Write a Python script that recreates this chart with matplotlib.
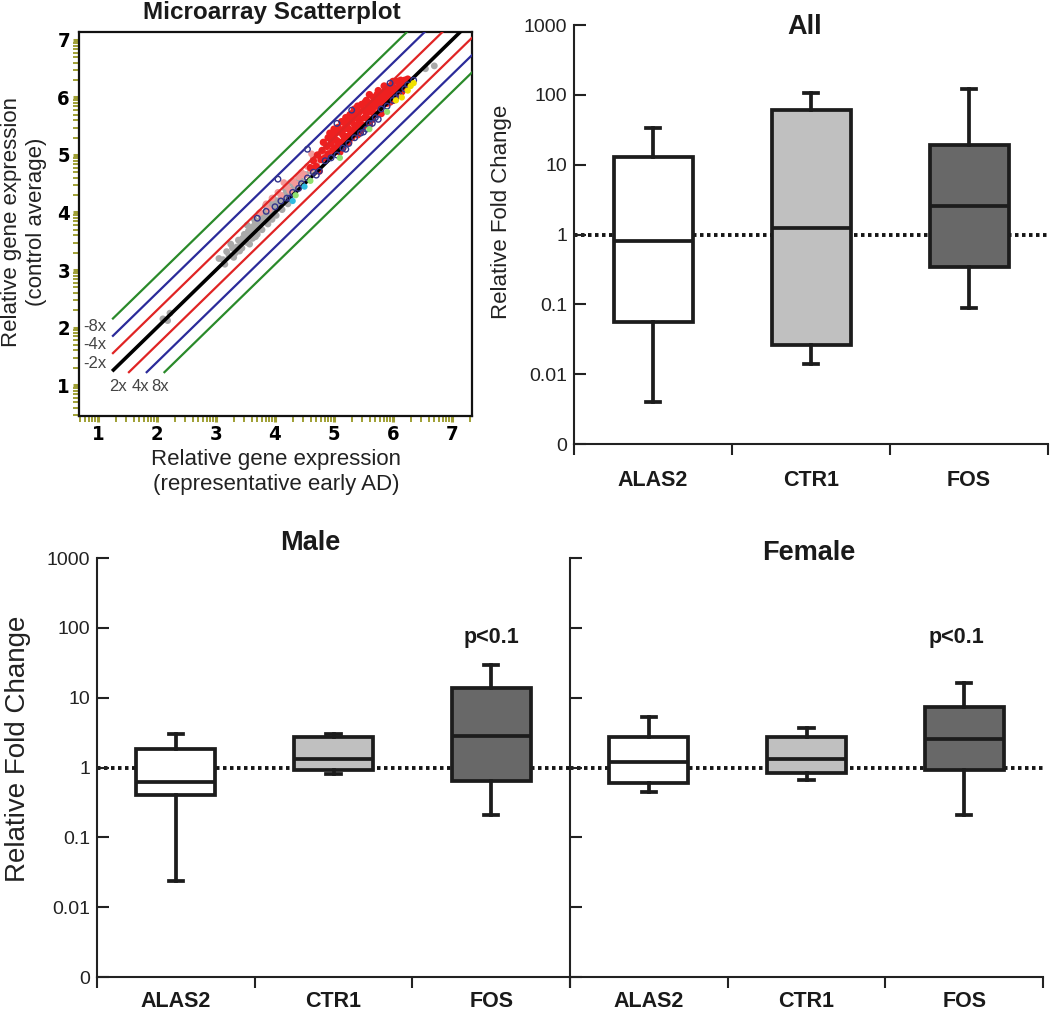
import matplotlib
matplotlib.use('Agg')
import matplotlib.pyplot as plt
import numpy as np
from matplotlib.ticker import NullLocator

plt.rcParams['font.family'] = ['Liberation Sans', 'DejaVu Sans']

# ---------------- data ----------------
genes = ['ALAS2', 'CTR1', 'FOS']
box_colors = ['#ffffff', '#c0c0c0', '#686868']

all_whislo = [0.004, 0.014, 0.089]
all_q1 = [0.055, 0.026, 0.34]
all_med = [0.82, 1.22, 2.6]
all_q3 = [13.0, 60.0, 19.0]
all_whishi = [34.0, 105.0, 120.0]

male_whislo = [0.024, 0.82, 0.21]
male_q1 = [0.41, 0.92, 0.64]
male_med = [0.61, 1.32, 2.85]
male_q3 = [1.87, 2.7, 13.6]
male_whishi = [3.0, 2.97, 29.0]

female_whislo = [0.45, 0.67, 0.21]
female_q1 = [0.60, 0.84, 0.92]
female_med = [1.18, 1.32, 2.52]
female_q3 = [2.72, 2.72, 7.3]
female_whishi = [5.2, 3.7, 16.0]

ytick_vals = [1e-3, 1e-2, 1e-1, 1, 10, 100, 1000]
ytick_labels = ['0', '0.01', '0.1', '1', '10', '100', '1000']

# microarray scatter (log10 expression)
grey_pts = [(2.10, 2.15), (2.18, 2.12), (2.22, 2.25), (3.05, 3.20), (3.12, 3.18), (3.18, 3.32),
            (3.22, 3.25), (3.28, 3.38), (3.33, 3.30), (3.38, 3.52), (3.42, 3.45), (3.45, 3.55),
            (3.50, 3.58), (3.52, 3.48), (3.55, 3.68), (3.58, 3.62), (3.60, 3.74), (3.63, 3.66),
            (3.66, 3.80), (3.68, 3.72), (3.70, 3.84), (3.72, 3.78), (3.75, 3.86), (3.77, 3.92),
            (3.80, 3.85), (3.82, 3.98), (3.85, 3.90), (3.87, 4.05), (3.90, 3.98), (3.92, 4.10),
            (3.95, 4.02), (3.98, 4.12), (4.00, 4.08), (4.03, 4.20), (4.05, 4.15), (4.08, 4.12),
            (4.10, 4.25), (4.13, 4.18), (4.16, 4.30), (4.20, 4.28), (4.24, 4.35), (4.28, 4.40),
            (4.33, 4.45), (4.38, 4.50), (4.45, 4.55), (4.52, 4.66), (4.60, 4.72), (4.70, 4.85),
            (4.85, 5.00), (5.00, 5.15), (3.35, 3.40), (3.62, 3.55), (3.88, 3.80), (4.12, 4.05),
            (3.70, 3.62), (3.95, 3.88), (4.40, 4.58), (3.57, 3.45), (3.78, 3.70), (3.48, 3.62),
            (3.65, 3.88), (3.93, 4.18), (4.18, 4.40), (6.55, 6.50), (6.70, 6.55), (3.15, 3.10),
            (3.40, 3.33), (3.53, 3.78), (3.73, 3.98), (3.84, 4.12), (4.02, 3.95), (4.22, 4.15),
            (3.25, 3.45), (3.30, 3.22), (3.44, 3.38), (3.67, 3.58), (3.97, 4.25), (4.26, 4.52)]
pink_pts = [(3.75, 4.00), (3.85, 4.15), (3.95, 4.25), (4.05, 4.35), (4.10, 4.30), (4.20, 4.45),
            (4.30, 4.55), (4.35, 4.50), (4.45, 4.70), (4.50, 4.65), (4.55, 4.80), (4.60, 4.75),
            (4.65, 4.95), (4.70, 4.85), (4.78, 5.05), (4.85, 5.00), (4.90, 5.15), (4.95, 5.10),
            (5.00, 5.25), (4.40, 4.62), (4.25, 4.38), (3.90, 4.05), (4.15, 4.52), (4.62, 5.02)]
red_pts = [(4.60, 4.78), (4.65, 4.90), (4.70, 4.80), (4.72, 5.00), (4.78, 4.92), (4.80, 5.08),
           (4.85, 4.95), (4.88, 5.15), (4.90, 5.02), (4.95, 5.20), (4.98, 5.08), (5.00, 5.30),
           (5.02, 5.12), (5.05, 5.25), (5.08, 5.18), (5.10, 5.40), (5.12, 5.22), (5.15, 5.35),
           (5.18, 5.28), (5.20, 5.50), (5.22, 5.32), (5.25, 5.45), (5.28, 5.36), (5.30, 5.60),
           (5.32, 5.42), (5.35, 5.52), (5.38, 5.45), (5.40, 5.70), (5.42, 5.55), (5.45, 5.62),
           (5.48, 5.52), (5.50, 5.78), (5.52, 5.65), (5.55, 5.72), (5.58, 5.62), (5.60, 5.85),
           (5.62, 5.75), (5.65, 5.80), (5.68, 5.72), (5.70, 5.95), (5.72, 5.85), (5.75, 5.90),
           (5.78, 5.82), (5.80, 6.02), (5.82, 5.92), (5.85, 6.00), (5.88, 5.95), (5.90, 6.10),
           (5.92, 6.02), (5.95, 6.08), (5.98, 6.05), (6.00, 6.18), (6.02, 6.10), (6.05, 6.15),
           (6.08, 6.12), (6.10, 6.25), (6.12, 6.18), (6.15, 6.22), (6.18, 6.25), (6.20, 6.30),
           (6.25, 6.32), (5.30, 5.30), (5.50, 5.50), (5.70, 5.70), (5.90, 5.90), (5.15, 5.12),
           (5.45, 5.42), (5.75, 5.72), (6.05, 6.02), (5.00, 5.45), (5.20, 5.65), (5.35, 5.80),
           (5.55, 5.95), (5.75, 6.12), (5.60, 6.05), (5.40, 5.85), (4.90, 5.30), (5.85, 6.20),
           (6.00, 6.28), (5.25, 5.22), (5.65, 5.62), (5.95, 5.92), (6.15, 6.10), (4.75, 4.72),
           (4.82, 5.22), (5.07, 5.48), (5.27, 5.70), (5.47, 5.88), (5.67, 6.00), (5.87, 6.12),
           (6.07, 6.28), (4.93, 5.38), (5.13, 5.58), (5.33, 5.75), (5.53, 5.92), (5.73, 6.05),
           (5.93, 6.18), (6.13, 6.30), (5.17, 5.45), (5.37, 5.65), (5.57, 5.82), (5.77, 5.98),
           (5.97, 6.15), (5.03, 5.38), (5.23, 5.55), (5.43, 5.75), (5.63, 5.90), (5.83, 6.08),
           (5.10, 5.05), (5.40, 5.35), (5.60, 5.52), (5.80, 5.72), (6.00, 5.95), (6.22, 6.18)]
navy_pts = [(3.85, 4.02), (4.00, 4.10), (4.10, 4.20), (4.20, 4.25), (4.30, 4.35), (4.40, 4.42),
            (4.45, 4.50), (4.55, 4.60), (4.65, 4.70), (4.75, 4.72), (4.85, 4.90), (4.95, 4.95),
            (5.05, 5.00), (5.15, 5.12), (5.25, 5.20), (5.35, 5.30), (5.45, 5.38), (5.55, 5.45),
            (5.60, 5.55), (5.70, 5.65), (5.80, 5.80), (5.90, 5.85), (6.00, 5.95), (6.10, 6.05),
            (6.20, 6.15), (6.25, 6.22), (5.30, 5.78), (5.05, 5.55), (4.55, 5.10), (4.05, 4.58),
            (4.25, 4.25), (5.50, 5.40), (5.65, 5.55), (5.95, 6.25), (6.35, 6.30), (4.70, 4.65),
            (5.20, 5.10), (3.70, 3.90), (5.75, 5.62), (6.05, 6.00)]
green_pts = [(4.60, 4.55), (5.10, 4.95), (5.60, 5.45), (4.35, 4.30), (5.90, 5.75)]
yellow_pts = [(6.15, 6.00), (6.25, 6.12), (6.30, 6.20), (6.05, 5.95), (6.35, 6.25)]
cyan_pts = [(4.30, 4.20), (4.50, 4.45)]

fold_factors = [-8, -4, -2, 1, 2, 4, 8]
fold_colors = ['#2a8a2a', '#2b2b9a', '#e02424', '#000000', '#e02424', '#2b2b9a', '#2a8a2a']
fold_labels = ['-8x', '-4x', '-2x', '', '2x', '4x', '8x']

# ---------------- figure ----------------
W, H = 1050, 1013
fig = plt.figure(figsize=(W / 100, H / 100), dpi=100)


def px_axes(x0, y0, x1, y1):
    return fig.add_axes([x0 / W, 1 - y1 / H, (x1 - x0) / W, (y1 - y0) / H])


def fx(x):
    return x / W


def fy(y):
    return 1 - y / H


# ---- scatter panel ----
ax0 = px_axes(79, 32, 472, 416)
ax0.set_xlim(0.678, 7.339)
ax0.set_ylim(0.461, 7.139)
for pts, col, s in [(grey_pts, '#a9a9a9', 24), (pink_pts, '#f39a9a', 24), (red_pts, '#ee2020', 28)]:
    xs, ys = zip(*pts)
    ax0.scatter(xs, ys, s=s, color=col, edgecolors='none', zorder=2)

label_pos = {'-8x': (0.95, 2.015), '-4x': (0.95, 1.71), '-2x': (0.95, 1.38),
             '2x': (1.343, 0.98), '4x': (1.726, 0.98), '8x': (2.06, 0.98)}
for f, col, lab in zip(fold_factors, fold_colors, fold_labels):
    # negative folds lie above the diagonal, positive folds below
    if f == 1:
        d = 0.0
    elif f > 0:
        d = -np.log10(f)
    else:
        d = np.log10(-f)
    x0 = 1.24 if d >= 0 else 1.21 - d
    xs = np.array([x0, 7.6])
    ax0.plot(xs, xs + d, color=col, lw=2.6 if f == 1 else 1.6, zorder=3,
             solid_capstyle='butt')
    if lab:
        tx, ty = label_pos[lab]
        ax0.text(tx, ty, lab, ha='center', va='center', fontsize=12, color='#444444', zorder=5)

xs, ys = zip(*navy_pts)
ax0.scatter(xs, ys, s=16, facecolors='none', edgecolors='#34348a', linewidths=1.0, zorder=4)
for pts, col in [(green_pts, '#8fe070'), (yellow_pts, '#f0e000'), (cyan_pts, '#30bbe0')]:
    xs, ys = zip(*pts)
    ax0.scatter(xs, ys, s=20, color=col, edgecolors='none', zorder=4)

major = np.arange(1, 8)
minor = [n + np.log10(k) for n in range(0, 8) for k in range(2, 10)]
ax0.set_xticks(major)
ax0.set_yticks(major)
ax0.set_xticks([m for m in minor if 0.678 < m < 7.339], minor=True)
ax0.set_yticks([m for m in minor if 0.461 < m < 7.139], minor=True)
ax0.tick_params(which='both', direction='out', color='#a0a034', length=4.5, width=1.4,
                labelcolor='black')
ax0.tick_params(which='major', width=2.2)
ax0.tick_params(axis='x', which='major', pad=2, labelsize=14.5)
ax0.tick_params(axis='y', which='major', pad=2, labelsize=14.5)
for t in ax0.get_xticklabels() + ax0.get_yticklabels():
    t.set_fontweight('bold')
    t.set_family('DejaVu Sans')
    t.set_stretch('condensed')
for sp in ax0.spines.values():
    sp.set_linewidth(1.6)
    sp.set_color('#111111')

fig.text(fx(272), fy(12), 'Microarray Scatterplot', ha='center', va='center',
         fontsize=17.5, fontweight='bold', color='#1a1a1a')
fig.text(fx(24), fy(222), 'Relative gene expression\n(control average)', ha='center',
         va='center', rotation=90, fontsize=16, color='#222222', linespacing=1.25)
fig.text(fx(276), fy(472), 'Relative gene expression\n(representative early AD)', ha='center',
         va='center', fontsize=16, color='#222222', linespacing=1.2)


# ---- box panels ----
def box_panel(ax, whislo, q1, med, q3, whishi, show_labels, cat_pad):
    stats = [dict(whislo=a, q1=b, med=c, q3=d, whishi=e, label=g)
             for a, b, c, d, e, g in zip(whislo, q1, med, q3, whishi, genes)]
    lc = '#1c1c1c'
    bp = ax.bxp(stats, positions=[0, 1, 2], widths=0.5, patch_artist=True, showfliers=False,
                capwidths=0.09, manage_ticks=False, zorder=3,
                boxprops=dict(linewidth=2.7, edgecolor=lc),
                medianprops=dict(linewidth=2.7, color=lc, solid_capstyle='butt'),
                whiskerprops=dict(linewidth=2.7, color=lc),
                capprops=dict(linewidth=2.7, color=lc))
    for patch, c in zip(bp['boxes'], box_colors):
        patch.set_facecolor(c)
    ax.set_yscale('log')
    ax.set_ylim(1e-3, 1e3)
    ax.set_xlim(-0.5, 2.5)
    ax.axhline(1, color='#151515', lw=2.8, ls=(0, (0.9, 0.9)), zorder=1)
    ax.set_yticks(ytick_vals)
    ax.yaxis.set_minor_locator(NullLocator())
    if show_labels:
        ax.set_yticklabels(ytick_labels)
    else:
        ax.set_yticklabels([''] * len(ytick_vals))
    ax.tick_params(axis='y', direction='in', length=8.5, width=1.5, color='#222222',
                   labelsize=14, pad=5, labelcolor='#222222')
    ax.set_xticks([-0.5, 0.5, 1.5, 2.5])
    ax.set_xticklabels([''] * 4)
    ax.set_xticks([0, 1, 2], minor=True)
    ax.set_xticklabels(genes, minor=True, fontweight='bold', fontsize=15.5, color='#1a1a1a')
    ax.tick_params(axis='x', which='major', direction='out', length=8, width=1.5, color='#222222')
    ax.tick_params(axis='x', which='minor', length=0, pad=cat_pad)
    for side in ['top', 'right']:
        ax.spines[side].set_visible(False)
    for side in ['left', 'bottom']:
        ax.spines[side].set_linewidth(1.5)
        ax.spines[side].set_color('#222222')


ax_all = px_axes(574, 25, 1048, 444)
box_panel(ax_all, all_whislo, all_q1, all_med, all_q3, all_whishi, True, 19)
ax_male = px_axes(97, 558, 570, 977)
box_panel(ax_male, male_whislo, male_q1, male_med, male_q3, male_whishi, True, 10)
ax_fem = px_axes(570, 558, 1043, 977)
box_panel(ax_fem, female_whislo, female_q1, female_med, female_q3, female_whishi, False, 10)

fig.text(fx(805), fy(27), 'All', ha='center', va='center', fontsize=19.5, fontweight='bold',
         color='#1a1a1a')
fig.text(fx(310), fy(543), 'Male', ha='center', va='center', fontsize=19.5, fontweight='bold',
         color='#1a1a1a')
fig.text(fx(809), fy(553), 'Female', ha='center', va='center', fontsize=19.5, fontweight='bold',
         color='#1a1a1a')
fig.text(fx(502), fy(212), 'Relative Fold Change', ha='center', va='center', rotation=90,
         fontsize=16, color='#222222')
fig.text(fx(18), fy(749), 'Relative Fold Change', ha='center', va='center', rotation=90,
         fontsize=20, color='#222222')

ax_male.text(2.0, 72, 'p<0.1', ha='center', va='center', fontsize=15.5, fontweight='bold',
             color='#1a1a1a')
ax_fem.text(1.95, 72, 'p<0.1', ha='center', va='center', fontsize=15.5, fontweight='bold',
            color='#1a1a1a')

fig.savefig('out.png', dpi=100)
